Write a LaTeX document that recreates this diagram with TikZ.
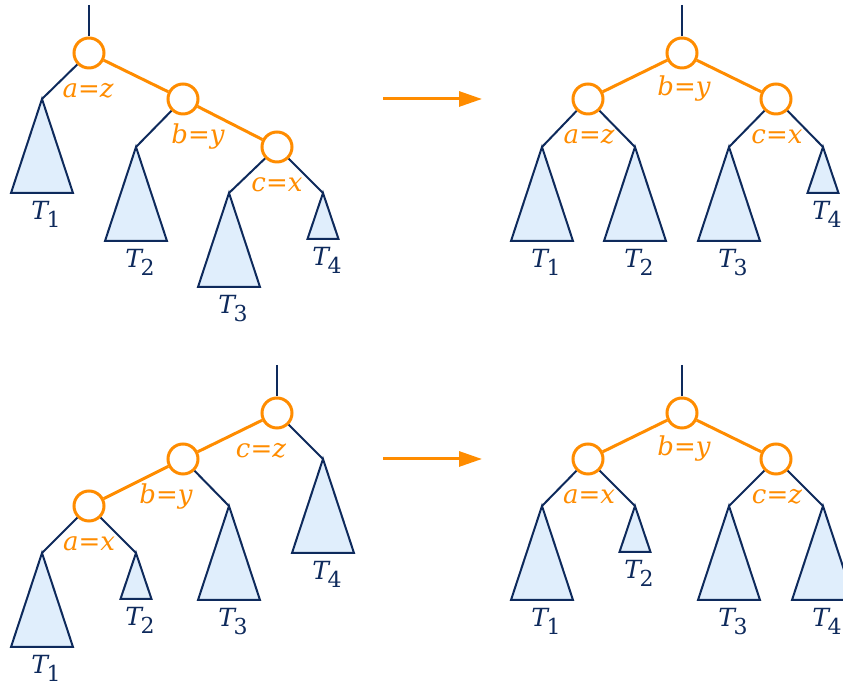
\documentclass[tikz,border=0pt]{standalone}
\usepackage{fontspec}
\setmainfont{DejaVu Serif}
\usepackage{xcolor}
\usetikzlibrary{arrows.meta}

\definecolor{rotorange}{HTML}{FF8C00}
\definecolor{treenavy}{HTML}{0E2A5C}
\definecolor{treefill}{HTML}{E0EEFC}

% subtree label T_i
\newcommand{\tsub}[1]{\textit{T}\kern-0.12em\raisebox{-0.32em}{\fontsize{11}{11}\selectfont #1}}
% big and small subtrees hanging from an apex coordinate
\newcommand{\bigtree}[3]{%
  \draw[tri] (#1) -- ++(-31,94) -- ++(62,0) -- cycle;
  \path (#1) ++(4,102) node[tlab] (#2) {\tsub{#3}};}
\newcommand{\smalltree}[3]{%
  \draw[tri] (#1) -- ++(-15.5,46) -- ++(31,0) -- cycle;
  \path (#1) ++(4,54) node[tlab] (#2) {\tsub{#3}};}

\begin{document}
\begin{tikzpicture}[x=0.5pt,y=-0.5pt,font=\fontsize{12.5}{14}\selectfont,
  key/.style={circle,draw=rotorange,line width=1.5pt,fill=white,minimum size=15pt,inner sep=0pt},
  spine/.style={draw=rotorange,line width=1.5pt},
  link/.style={draw=treenavy,line width=1pt},
  tri/.style={draw=treenavy,fill=treefill,line width=1pt},
  tlab/.style={anchor=north,inner sep=0pt,text=treenavy},
  klab/.style={text=rotorange,font=\fontsize{13}{15}\selectfont\itshape,inner sep=0pt},
  rot/.style={draw=rotorange,line width=1.5pt,-{Triangle[length=11.5pt,width=7.5pt]}}]
  \useasboundingbox (0,0) rectangle (843,683);

  % zig-zig, before
  \coordinate (s1) at (89,5);
  \node[key] (a1) at (89,53) {};
  \node[key] (b1) at (183,99) {};
  \node[key] (c1) at (277,147) {};
  \coordinate (p1) at (42,99);  \coordinate (p2) at (136,147);
  \coordinate (p3) at (229,193); \coordinate (p4) at (323,193);
  \draw[link] (s1) -- (a1);
  \draw[link] (a1) -- (p1); \draw[link] (b1) -- (p2);
  \draw[link] (c1) -- (p3); \draw[link] (c1) -- (p4);
  \draw[spine] (a1) -- (b1); \draw[spine] (b1) -- (c1);
  \bigtree{p1}{l1}{1} \bigtree{p2}{l2}{2} \bigtree{p3}{l3}{3} \smalltree{p4}{l4}{4}
  \node[klab] (ka1) at (88,91) {a=z};
  \node[klab] (kb1) at (198,137) {b=y};
  \node[klab] (kc1) at (277,185) {c=x};

  % zig-zig, after
  \coordinate (s2) at (682,5);
  \node[key] (b2) at (682,53) {};
  \node[key] (a2) at (588,99) {};
  \node[key] (c2) at (776,99) {};
  \coordinate (q1) at (542,147); \coordinate (q2) at (635,147);
  \coordinate (q3) at (729,147); \coordinate (q4) at (823,147);
  \draw[link] (s2) -- (b2);
  \draw[link] (a2) -- (q1); \draw[link] (a2) -- (q2);
  \draw[link] (c2) -- (q3); \draw[link] (c2) -- (q4);
  \draw[spine] (b2) -- (a2); \draw[spine] (b2) -- (c2);
  \bigtree{q1}{m1}{1} \bigtree{q2}{m2}{2} \bigtree{q3}{m3}{3} \smalltree{q4}{m4}{4}
  \node[klab] (kb2) at (684,89) {b=y};
  \node[klab] (ka2) at (589,137) {a=z};
  \node[klab] (kc2) at (777,137) {c=x};

  \coordinate (r1) at (383,99); \coordinate (r2) at (482,99);
  \draw[rot] (r1) -- (r2);

  % zig-zig mirrored, before
  \coordinate (s3) at (277,365);
  \node[key] (c3) at (277,413) {};
  \node[key] (b3) at (183,459) {};
  \node[key] (a3) at (89,506) {};
  \coordinate (u1) at (42,553);  \coordinate (u2) at (136,553);
  \coordinate (u3) at (229,506); \coordinate (u4) at (323,459);
  \draw[link] (s3) -- (c3);
  \draw[link] (a3) -- (u1); \draw[link] (a3) -- (u2);
  \draw[link] (b3) -- (u3); \draw[link] (c3) -- (u4);
  \draw[spine] (c3) -- (b3); \draw[spine] (b3) -- (a3);
  \bigtree{u1}{n1}{1} \smalltree{u2}{n2}{2} \bigtree{u3}{n3}{3} \bigtree{u4}{n4}{4}
  \node[klab] (kc3) at (261,451) {c=z};
  \node[klab] (kb3) at (166,497) {b=y};
  \node[klab] (ka3) at (89,544) {a=x};

  % zig-zig mirrored, after
  \coordinate (s4) at (682,365);
  \node[key] (b4) at (682,413) {};
  \node[key] (a4) at (588,459) {};
  \node[key] (c4) at (776,459) {};
  \coordinate (v1) at (542,506); \coordinate (v2) at (635,506);
  \coordinate (v3) at (729,506); \coordinate (v4) at (823,506);
  \draw[link] (s4) -- (b4);
  \draw[link] (a4) -- (v1); \draw[link] (a4) -- (v2);
  \draw[link] (c4) -- (v3); \draw[link] (c4) -- (v4);
  \draw[spine] (b4) -- (a4); \draw[spine] (b4) -- (c4);
  \bigtree{v1}{o1}{1} \smalltree{v2}{o2}{2} \bigtree{v3}{o3}{3} \bigtree{v4}{o4}{4}
  \node[klab] (kb4) at (684,449) {b=y};
  \node[klab] (ka4) at (589,497) {a=x};
  \node[klab] (kc4) at (777,497) {c=z};

  \coordinate (r3) at (383,459); \coordinate (r4) at (482,459);
  \draw[rot] (r3) -- (r4);
\end{tikzpicture}
\end{document}
